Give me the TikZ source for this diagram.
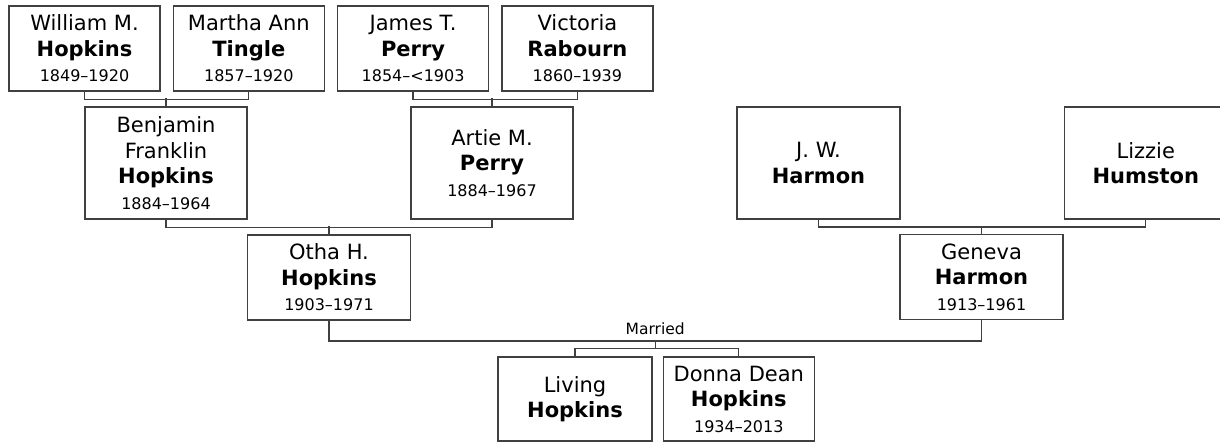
\documentclass[tikz,border=0pt]{standalone}
\usepackage{fontspec}
\setmainfont{DejaVu Sans}
\usepackage{tikz}
\usetikzlibrary{positioning}

\newcommand{\yrs}[1]{{\fontsize{16}{20}\selectfont #1}}

\begin{document}
\begin{tikzpicture}[x=1pt,y=-1pt,
      person/.style={draw=black!75,line width=1.3pt,fill=white,align=center,
        font=\fontsize{21}{25.5}\selectfont,inner sep=0pt,
        minimum width=151pt,minimum height=85pt},
      tall/.style={minimum width=162pt,minimum height=112pt},
      mid/.style={minimum width=163pt,minimum height=85pt},
      link/.style={draw=black!75,line width=1.3pt}]
      \clip (0,0) rectangle (1220,443);

      % grandparents' parents
      \node[person] (will) at (84.5,48.5) {William M.\\\textbf{Hopkins}\\\yrs{1849--1920}};
      \node[person] (mart) [right=12pt of will] {Martha Ann\\\textbf{Tingle}\\\yrs{1857--1920}};
      \node[person] (jame) [right=12pt of mart] {James T.\\\textbf{Perry}\\\yrs{1854--<1903}};
      \node[person] (vict) [right=12pt of jame] {Victoria\\\textbf{Rabourn}\\\yrs{1860--1939}};

      % grandparents
      \node[person,tall] (benj) at (166,163) {Benjamin\\Franklin\\\textbf{Hopkins}\\\yrs{1884--1964}};
      \node[person,tall] (arti) at (492,163) {Artie M.\\\textbf{Perry}\\\yrs{1884--1967}};
      \node[person,tall,minimum width=163pt] (jwha) at (818.5,163) {J. W.\\\textbf{Harmon}};
      \node[person,tall,minimum width=163pt] (lizz) [right=163pt of jwha] {Lizzie\\\textbf{Humston}};

      % parents
      \node[person,mid] (otha) at (329,277.5) {Otha H.\\\textbf{Hopkins}\\\yrs{1903--1971}};
      \node[person,mid] (gene) at (981.5,277) {Geneva\\\textbf{Harmon}\\\yrs{1913--1961}};

      % children
      \node[person,minimum width=154pt,minimum height=84pt] (livi) at (575,399) {Living\\\textbf{Hopkins}};
      \node[person,minimum height=84pt] (donn) [right=10pt of livi] {Donna Dean\\\textbf{Hopkins}\\\yrs{1934--2013}};

      \draw[link] (will.south) -- ++(0,8) -| (mart.south);
      \draw[link] (benj.north) -- ++(0,-8);
      \draw[link] (jame.south) -- ++(0,8) -| (vict.south);
      \draw[link] (arti.north) -- ++(0,-8);
      \draw[link] (benj.south) -- ++(0,8) -| (arti.south);
      \draw[link] (otha.north) -- ++(0,-8);
      \draw[link] (jwha.south) -- ++(0,7.5) -| (lizz.south);
      \draw[link] (gene.north) -- ++(0,-8);
      \draw[link] (otha.south) -- ++(0,20.5) -| (gene.south)
        node[pos=0.25,above=2pt,font=\fontsize{15.5}{18}\selectfont] {Married}
        coordinate[pos=0.25] (wed);
      \draw[link] (livi.north) -- ++(0,-8) -| (donn.north);
      \draw[link] (wed) -- ++(0,8);
\end{tikzpicture}
\end{document}
